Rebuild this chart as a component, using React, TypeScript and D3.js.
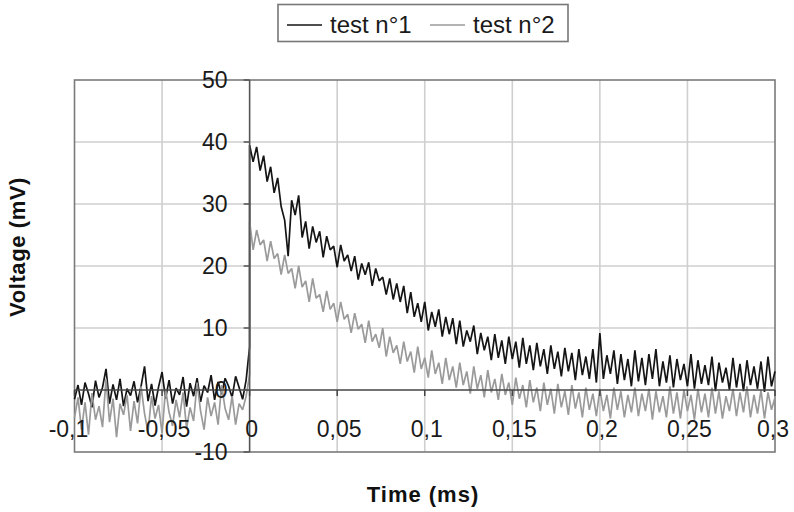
// Externals
import * as d3 from 'd3'
import React, { useEffect, useRef } from 'react'

// Sampling of the scope traces (ms)
const tStart = -0.1
const tStep = 0.002

// Test n°1, before the pulse (-0.1 .. 0 ms)
const test1Before = [
  -1.5, 0.8, -2.4, 1.2, -0.6, -2.8, 1.5, -1.2, 0.4, 3.4,
  -2.2, 0.9, -1.6, 1.8, -2.6, 0.2, -0.9, 1.4, -2.0, 0.6,
  3.8, -1.8, 1.0, -2.5, 0.5, 2.9, -1.4, 1.6, -2.2, 0.3,
  -0.8, 2.1, -2.7, 1.1, -1.0, 1.9, -1.9, 0.7, -0.4, 2.4,
  -1.6, 1.3, -0.7, 1.9, 0.6, -1.2, 2.2, 0.4, -1.5, 1.6,
  7.0,
]
// Test n°1, from the pulse on (0 .. 0.3 ms)
const test1After = [
  39.5, 36.8, 39.2, 35.4, 37.8, 33.6, 36.0, 31.8, 34.2, 29.6,
  27.4, 21.6, 30.6, 28.2, 31.4, 24.6, 27.2, 22.8, 26.4, 23.8,
  25.6, 21.4, 24.8, 22.6, 23.2, 19.8, 23.4, 20.8, 21.8, 19.2,
  21.6, 17.8, 20.4, 18.6, 20.6, 16.8, 19.6, 17.6, 18.2, 15.4,
  18.0, 14.6, 17.2, 14.2, 16.8, 12.4, 15.8, 11.8, 14.0, 11.0,
  14.2, 9.6, 12.6, 10.2, 13.0, 8.6, 11.8, 9.0, 11.6, 7.4,
  11.2, 7.0, 9.6, 7.8, 10.4, 5.8, 9.2, 6.4, 8.6, 4.8,
  9.0, 5.2, 8.0, 4.2, 8.6, 5.0, 7.8, 3.6, 8.4, 4.2,
  7.2, 3.2, 7.6, 3.8, 6.6, 2.6, 7.2, 3.4, 6.2, 2.2,
  6.8, 3.0, 6.0, 1.6, 6.6, 2.4, 5.4, 1.8, 6.6, 1.2,
  9.2, 1.8, 5.6, 2.6, 6.4, 1.0, 5.8, 1.6, 5.0, 0.6,
  6.4, 1.4, 5.2, 0.8, 5.8, 1.8, 6.6, 0.6, 4.6, 1.2,
  5.6, 0.4, 5.0, 1.6, 4.2, 0.6, 5.8, 0.2, 4.8, 1.0,
  4.0, 0.8, 5.4, -0.2, 4.4, 1.2, 3.6, 0.0, 5.2, 0.4,
  4.2, -0.2, 4.8, 0.8, 3.8, 0.2, 4.6, -0.3, 5.4, 0.6,
  3.0,
]

// Test n°2, before the pulse
const test2Before = [
  -4.5, -1.2, -6.4, -2.0, -7.2, -0.5, -4.8, -2.6, -6.0, 1.8,
  -5.2, -1.4, -7.6, -2.2, -4.0, -0.8, -6.6, -1.8, -5.4, 0.6,
  -3.8, -6.8, -1.0, -4.6, -2.4, -7.0, 0.2, -3.6, -5.8, -1.6,
  -4.4, -0.4, -6.2, -2.8, -5.0, 1.2, -3.4, -6.4, -1.2, -4.2,
  -2.0, -5.6, 0.8, -3.0, -4.8, -1.0, -5.6, -2.2, -3.2, -1.0,
  2.5,
]
// Test n°2, from the pulse on
const test2After = [
  27.2, 22.6, 25.8, 23.4, 24.2, 20.8, 24.0, 21.2, 22.0, 18.6,
  21.8, 18.8, 19.6, 16.4, 20.0, 16.6, 17.6, 14.2, 18.0, 14.8,
  15.4, 12.6, 16.0, 13.0, 14.0, 11.0, 14.2, 11.4, 12.2, 9.2,
  12.4, 9.8, 10.6, 7.6, 11.2, 7.8, 9.0, 6.8, 10.0, 5.4,
  8.6, 6.0, 7.2, 4.2, 7.8, 4.6, 6.2, 2.8, 7.0, 3.4,
  5.2, 2.0, 6.4, 2.6, 4.4, 1.0, 5.2, 1.6, 3.8, 0.4,
  4.4, 0.8, 3.0, -0.6, 3.8, 0.2, 2.4, -1.2, 3.2, -0.4,
  1.8, -1.6, 2.6, -0.8, 1.2, -2.4, 2.0, -1.4, 0.8, -2.8,
  1.6, -2.0, 0.4, -3.4, 1.2, -2.4, 0.2, -3.8, 1.0, -2.8,
  -0.2, -4.0, 0.8, -3.0, -0.4, -4.4, 0.4, -3.2, -0.6, -4.2,
  0.2, -3.4, -0.8, -4.6, 0.4, -3.2, -0.2, -4.4, -0.8, -3.6,
  0.4, -4.2, -0.6, -3.4, 0.2, -4.8, -0.2, -3.6, -1.0, -4.4,
  0.6, -3.8, -0.4, -4.6, 0.0, -3.4, -0.8, -4.8, 0.2, -3.6,
  -0.6, -4.4, 0.4, -3.8, -0.2, -4.6, -1.0, -3.4, 0.2, -4.2,
  -0.4, -3.6, 0.6, -4.4, -0.8, -3.8, 0.0, -4.6, -0.4, -3.2,
  -1.2,
]

const seriesNames = ['test n°1', 'test n°2']
const seriesColors = ['#151515', '#9a9a9a']
const xTicks = [-0.1, -0.05, 0, 0.05, 0.1, 0.15, 0.2, 0.25, 0.3]
const yTicks = [-10, 0, 10, 20, 30, 40, 50]

const FONT = '"Liberation Sans", Arial, sans-serif'

// Before-arrays end at t = 0, after-arrays start at t = 0, so the pulse
// edge is drawn as a vertical step
const toPoints = (before: number[], after: number[]) => [
  ...before.map((v, i) => [tStart + i * tStep, v] as [number, number]),
  ...after.map((v, i) => [i * tStep, v] as [number, number]),
]

const App = () => {
  const svgRef = useRef<any>(null)

  useEffect(() => {
    if (!svgRef.current) return
    document.body.style.margin = '0'

    const svg = d3.select(svgRef.current)
    svg.selectAll('*').remove()

    const width = 794
    const height = 512
    svg.attr('width', width).attr('height', height)

    const x = d3.scaleLinear().domain([-0.1, 0.3]).range([74.5, 775])
    const y = d3.scaleLinear().domain([-10, 50]).range([452, 80])

    const fmt = (d: number) => String(d).replace('.', ',')

    // Grid
    svg.append('g')
      .selectAll('line')
      .data(xTicks.filter((d) => d !== 0 && d !== -0.1 && d !== 0.3))
      .enter()
      .append('line')
      .attr('x1', (d) => x(d)).attr('x2', (d) => x(d))
      .attr('y1', y(50)).attr('y2', y(-10))
      .attr('stroke', '#cfcfcf').attr('stroke-width', 1.6)

    svg.append('g')
      .selectAll('line')
      .data(yTicks.filter((d) => d !== 0 && d !== -10 && d !== 50))
      .enter()
      .append('line')
      .attr('x1', x(-0.1)).attr('x2', x(0.3))
      .attr('y1', (d) => y(d)).attr('y2', (d) => y(d))
      .attr('stroke', '#cfcfcf').attr('stroke-width', 1.6)

    // Plot frame
    svg.append('rect')
      .attr('x', x(-0.1)).attr('y', y(50))
      .attr('width', x(0.3) - x(-0.1)).attr('height', y(-10) - y(50))
      .attr('fill', 'none').attr('stroke', '#7a7a7a').attr('stroke-width', 1.6)

    // Traces
    const line = d3.line<[number, number]>()
      .x((d) => x(d[0]))
      .y((d) => y(d[1]))

    const traces = [
      toPoints(test1Before, test1After),
      toPoints(test2Before, test2After),
    ]

    svg.append('g')
      .selectAll('path')
      .data(traces)
      .enter()
      .append('path')
      .attr('d', (d) => line(d))
      .attr('fill', 'none')
      .attr('stroke', (d, i) => seriesColors[i])
      .attr('stroke-width', 1.7)
      .attr('stroke-linejoin', 'bevel')

    // Axes through the origin
    svg.append('line')
      .attr('x1', x(-0.1)).attr('x2', x(0.3))
      .attr('y1', y(0)).attr('y2', y(0))
      .attr('stroke', '#444').attr('stroke-width', 1.5)
    svg.append('line')
      .attr('x1', x(0)).attr('x2', x(0))
      .attr('y1', y(50)).attr('y2', y(-10))
      .attr('stroke', '#555').attr('stroke-width', 1.6)

    // Y ticks and labels
    const yAxis = svg.append('g')
    yAxis.selectAll('line')
      .data(yTicks)
      .enter()
      .append('line')
      .attr('x1', x(0) - 6).attr('x2', x(0))
      .attr('y1', (d) => y(d)).attr('y2', (d) => y(d))
      .attr('stroke', '#555').attr('stroke-width', 1.5)
    yAxis.selectAll('text')
      .data(yTicks)
      .enter()
      .append('text')
      .attr('x', x(0) - 22)
      .attr('y', (d) => y(d))
      .attr('dy', '0.36em')
      .attr('text-anchor', 'end')
      .attr('font-family', FONT)
      .attr('font-size', 23)
      .attr('fill', '#1a1a1a')
      .text((d) => d)

    // X ticks and labels
    const xAxis = svg.append('g')
    xAxis.selectAll('line')
      .data(xTicks)
      .enter()
      .append('line')
      .attr('x1', (d) => x(d)).attr('x2', (d) => x(d))
      .attr('y1', y(0)).attr('y2', y(0) + 6)
      .attr('stroke', '#444').attr('stroke-width', 1.5)
    xAxis.selectAll('text')
      .data(xTicks)
      .enter()
      .append('text')
      .attr('x', (d) => x(d) + (d === 0.3 ? -2 : d === -0.1 ? -6 : 2))
      .attr('y', y(0) + 47)
      .attr('text-anchor', 'middle')
      .attr('font-family', FONT)
      .attr('font-size', 23)
      .attr('fill', '#1a1a1a')
      .text((d) => fmt(d))

    // Axis titles
    svg.append('text')
      .attr('transform', `translate(25, 247) rotate(-90)`)
      .attr('text-anchor', 'middle')
      .attr('font-family', FONT)
      .attr('font-size', 22)
      .attr('font-weight', 'bold')
      .attr('letter-spacing', 0.6)
      .attr('fill', '#111')
      .text('Voltage (mV)')

    svg.append('text')
      .attr('x', 423).attr('y', 502)
      .attr('text-anchor', 'middle')
      .attr('font-family', FONT)
      .attr('font-size', 22)
      .attr('font-weight', 'bold')
      .attr('letter-spacing', 1)
      .attr('fill', '#111')
      .text('Time (ms)')

    // Legend
    const legend = svg.append('g')
    legend.append('rect')
      .attr('x', 278).attr('y', 4.5)
      .attr('width', 290).attr('height', 37)
      .attr('fill', 'white').attr('stroke', '#777').attr('stroke-width', 1.6)

    const legendX = [287, 430]
    seriesNames.forEach((name, i) => {
      legend.append('line')
        .attr('x1', legendX[i]).attr('x2', legendX[i] + 35)
        .attr('y1', 25).attr('y2', 25)
        .attr('stroke', seriesColors[i]).attr('stroke-width', 1.4)
      legend.append('text')
        .attr('x', legendX[i] + 43).attr('y', 33)
        .attr('font-family', FONT)
        .attr('font-size', 24)
        .attr('fill', '#1a1a1a')
        .text(name)
    })
  }, [])

  return (
    <svg ref={svgRef} style={{ display: 'block' }}></svg>
  )
}

export default App
